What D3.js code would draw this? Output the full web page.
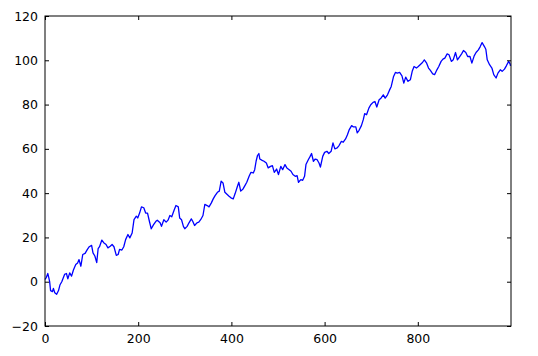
<!DOCTYPE html>
<html>
<head>
<meta charset="utf-8">
<script src="https://cdn.jsdelivr.net/npm/d3@7"></script>
<style>
  html, body { margin: 0; padding: 0; background: #fff; }
  svg { display: block; }
  text { font-family: "DejaVu Sans", sans-serif; font-size: 12.5px; fill: #000; }
</style>
</head>
<body>
<svg id="chart" width="538" height="356"></svg>
<script>
// Step index (x) and random-walk value (y)
const steps = [0,3,6,8,10,12,16,18,21,25,29,32,36,42,46,49,53,57,61,66,70,73,77,81,86,91,95,100,103,107,111,114,117,122,126,131,135,140,144,148,153,157,160,165,169,173,178,182,187,191,196,199,203,207,212,216,220,224,228,233,238,241,247,250,255,260,264,268,272,277,281,286,289,293,297,300,305,309,314,317,321,326,330,334,339,343,348,352,357,361,365,370,374,378,382,386,391,395,399,404,408,413,416,420,425,429,433,438,442,447,450,453,456,459,461,466,470,475,479,484,488,492,497,501,506,510,515,519,524,528,532,537,541,544,549,553,557,560,565,569,572,576,580,584,588,591,596,600,605,609,614,618,622,627,631,636,640,645,649,653,658,662,667,670,674,679,683,686,690,695,699,704,708,712,717,721,726,730,735,739,743,748,752,756,761,766,770,774,779,784,788,792,797,801,805,810,814,819,823,827,832,836,841,845,850,854,858,863,867,872,876,881,885,890,894,898,903,907,912,916,921,925,930,934,938,943,946,949,954,959,963,968,972,977,981,986,990,995,998,999];
const values = [1,2,3.7,2,0,-4,-4.5,-3,-5,-5.7,-4,-1.5,0,3.3,3.7,1.3,4,2.5,5.3,7.8,8.5,10,7,12.3,12.8,14.6,15.8,16.4,13,11.6,8.6,14.9,15.8,18.8,17.6,16.8,15.3,16,16.8,15.8,11.9,12.3,14.6,14.3,15.8,19,21.3,19.8,22,28,29.6,28.8,31,33.8,33.4,31,31,27.3,23.9,25.8,27.3,27.8,26.6,25,28,26.9,27.8,29.9,29.3,32.3,34.4,33.8,28.8,28,25,23.9,25,26.6,28.4,27.3,25.4,26.6,26.9,28,29.9,34.9,34.4,33.8,35.6,37.4,38.9,40.4,40.9,45.4,44.6,40.4,39.4,38.6,37.9,37.4,39.8,43.1,44.9,40.9,41.9,43.4,44.9,47.6,49.4,49.1,50.6,54.4,57,57.9,55.4,54.8,54.4,53.6,51.4,52.1,52.4,49.4,50.9,48.4,52.1,50.6,52.9,51.4,50.6,49.9,48.4,47.6,47.9,44.9,46.1,45.8,47.6,52.9,55.1,56.6,57.9,54.4,55.4,55.1,53.6,51.8,56.6,58.4,58.9,57.9,58.9,62.7,60,60.4,61.5,63.4,63,64.5,66.4,68.7,70.5,69.9,69.9,67.2,68.4,70.5,73.2,75.9,75.4,78.4,79.9,81,81.4,78.9,82.2,82.9,84.4,82.9,84.4,86.4,88.2,92.7,94.5,94.2,94.5,93,89.7,92.4,90.5,91.2,95,97.2,96.5,97.2,98,99,100.2,98.7,96.5,95.4,93.9,93.5,95.7,97.2,99.5,100.5,101,102.9,102.5,99.5,100.2,103.5,100.2,101.7,102.9,104.4,103.5,101.7,101.7,98.7,102,103.5,104.7,106.2,108,106.2,105,100.2,98,96.5,93.5,92,94.2,95.7,95,96,97.5,99.5,98.4,97.5];
const xTicks = [0,200,400,600,800];
const yTicks = [-20,0,20,40,60,80,100,120];

(function () {
  const data = steps.map((s, i) => ({x: s, y: values[i]}));
  const margin = {left: 45, top: 16, right: 27, bottom: 30};
  const W = 538, H = 356;
  const svg = d3.select("#chart");
  const x = d3.scaleLinear().domain([0, 1000]).range([margin.left, W - margin.right]);
  const y = d3.scaleLinear().domain([-20, 120]).range([H - margin.bottom, margin.top]);

  // line
  svg.append("path")
    .datum(data)
    .attr("fill", "none")
    .attr("stroke", "#0000ff")
    .attr("stroke-width", 1.3)
    .attr("stroke-linejoin", "round")
    .attr("d", d3.line().x(d => x(d.x)).y(d => y(d.y)));

  // axes, ticks inward, on all four sides
  const tl = 4;
  const gBottom = svg.append("g").attr("transform", `translate(0,${y(-20)})`)
    .call(d3.axisBottom(x).tickValues(xTicks).tickSizeInner(-tl).tickSizeOuter(0).tickPadding(8).tickFormat(d3.format("d")));
  const gTop = svg.append("g").attr("transform", `translate(0,${y(120)})`)
    .call(d3.axisTop(x).tickValues(xTicks).tickSizeInner(-tl).tickSizeOuter(0).tickFormat(""));
  const gLeft = svg.append("g").attr("transform", `translate(${x(0)},0)`)
    .call(d3.axisLeft(y).tickValues(yTicks).tickSizeInner(-tl).tickSizeOuter(0).tickPadding(7)
      .tickFormat(d => d < 0 ? "\u2212" + Math.abs(d) : d));
  const gRight = svg.append("g").attr("transform", `translate(${x(1000)},0)`)
    .call(d3.axisRight(y).tickValues(yTicks).tickSizeInner(-tl).tickSizeOuter(0).tickFormat(""));
  [gBottom, gTop, gLeft, gRight].forEach(g => {
    g.select(".domain").remove();
    g.selectAll("line").attr("stroke", "#000");
    g.selectAll("text").attr("font-family", "DejaVu Sans").attr("font-size", 12.5).attr("fill", "#000");
  });

  // frame
  svg.append("rect")
    .attr("x", x(0)).attr("y", y(120))
    .attr("width", x(1000) - x(0)).attr("height", y(-20) - y(120))
    .attr("fill", "none").attr("stroke", "#000").attr("stroke-width", 1);
})();
</script>
</body>
</html>
